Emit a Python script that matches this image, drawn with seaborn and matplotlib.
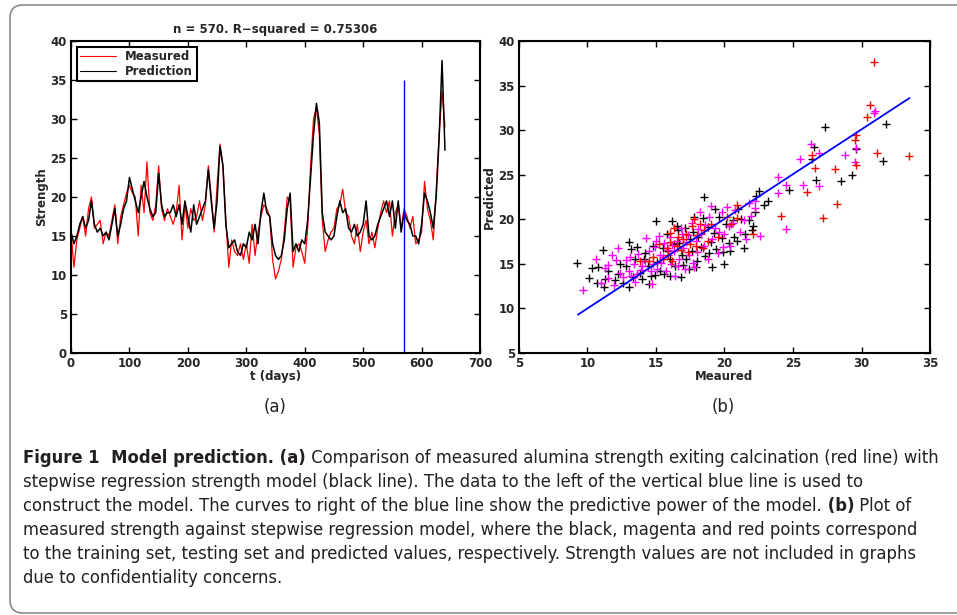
import numpy as np
import pandas as pd
import matplotlib.pyplot as plt
import seaborn as sns
from matplotlib.patches import FancyBboxPatch
from matplotlib import font_manager

# ---- (a) time series, one value every 5 days ----
t_days = np.arange(0, 641, 5)
measured = [
    15.5, 11.0, 14.5, 16.0, 17.5, 15.0, 18.5, 20.0, 16.0, 16.5,
    17.0, 14.0, 15.5, 15.0, 17.0, 19.0, 14.0, 17.5, 19.0, 20.5,
    21.5, 20.5, 20.0, 15.0, 21.5, 18.0, 24.5, 18.0, 17.0, 19.0,
    24.0, 18.5, 17.0, 18.5, 17.5, 16.5, 18.0, 21.5, 14.5, 19.0,
    16.0, 18.5, 17.0, 17.5, 19.5, 17.0, 19.0, 24.0, 20.0, 15.5,
    21.5, 26.8, 24.0, 17.0, 11.0, 14.5, 13.0, 12.5, 14.0, 12.0,
    14.0, 11.5, 16.5, 12.5, 15.5, 17.5, 19.0, 18.5, 17.5, 12.0,
    9.5, 10.5, 12.0, 15.5, 20.0, 19.5, 11.0, 13.5, 14.0, 13.0,
    11.5, 16.0, 24.0, 30.0, 31.5, 28.0, 17.0, 13.0, 14.5, 15.5,
    16.0, 18.5, 19.0, 21.0, 18.0, 17.5, 15.0, 14.0, 16.5, 13.0,
    15.5, 17.0, 14.0, 15.5, 13.5, 16.0, 18.0, 19.5, 18.0, 19.5,
    15.0, 18.0, 19.0, 16.0, 18.5, 17.5, 16.0, 17.5, 14.0, 14.5,
    15.5, 22.0, 18.5, 17.0, 14.5, 21.0, 28.0, 33.5, 29.0,
]
prediction = [
    15.5, 14.0, 15.0, 16.5, 17.5, 16.0, 17.0, 19.5, 16.5, 15.5,
    16.0, 15.0, 15.5, 14.5, 16.5, 18.5, 15.0, 16.5, 18.5, 19.5,
    22.5, 21.0, 19.5, 18.0, 20.0, 22.0, 20.0, 18.5, 17.5, 18.0,
    23.0, 19.0, 17.5, 18.0, 18.0, 19.0, 17.5, 19.0, 16.5, 19.5,
    17.5, 15.5, 19.0, 16.5, 17.5, 18.5, 19.5, 23.5, 19.5, 16.0,
    19.5, 26.5, 24.0, 16.5, 13.5, 14.0, 14.5, 13.0, 12.5, 14.0,
    13.5, 15.5, 14.5, 16.5, 14.0, 18.0, 20.5, 18.0, 17.5, 14.0,
    12.5, 12.0, 12.5, 14.5, 18.5, 20.5, 13.0, 14.0, 13.0, 14.5,
    14.0, 17.0, 22.5, 28.0, 32.0, 29.5, 18.0, 15.5, 15.0, 14.5,
    15.0, 17.5, 19.5, 18.0, 18.5, 16.0, 15.5, 16.5, 15.0, 15.5,
    16.5, 19.5, 15.0, 14.5, 15.0, 16.5, 17.5, 18.5, 19.5, 17.5,
    19.5, 16.0, 19.5, 15.5, 18.0, 17.0, 16.5, 15.0, 15.0, 14.0,
    16.5, 20.5, 19.5, 18.0, 16.0, 20.0, 27.5, 37.5, 26.0,
]
split_day = 570
split_top = 35

# ---- (b) measured vs predicted ----
train_x = [
    27.3, 31.8, 31.6, 29.3, 28.5, 26.7, 26.5, 26.4, 29.6, 24.7,
    23.2, 22.9, 22.5, 22.3, 22.2, 22.1, 21.4, 18.5, 15.0, 11.1,
    9.2, 10.1, 10.3, 10.8, 11.2, 10.7, 13.0, 13.0, 14.5, 16.0,
    16.8, 17.4, 17.9, 19.1, 20.0, 19.9, 20.3, 20.7, 21.0, 19.3,
    16.2, 16.5, 17.7, 11.5, 12.0, 12.4, 12.8, 13.2, 13.5, 13.8,
    14.0, 14.2, 14.4, 14.6, 14.8, 15.1, 15.3, 15.5, 15.6, 15.8,
    16.0, 16.3, 16.4, 16.6, 16.9, 17.1, 17.2, 17.5, 17.6, 17.8,
    18.0, 18.1, 18.3, 18.4, 18.6, 18.8, 19.0, 19.2, 19.4, 19.6,
    19.8, 20.1, 20.4, 20.6, 20.9, 21.2, 21.5, 21.8, 22.0, 14.9,
    15.9, 16.7, 13.6, 12.2, 11.3, 17.0, 18.9, 14.1, 12.6, 13.3,
]
train_y = [
    30.3, 30.7, 26.5, 25.0, 24.3, 24.4, 28.1, 26.8, 27.9, 23.3,
    22.0, 21.6, 23.2, 22.6, 20.8, 19.3, 16.8, 22.5, 19.8, 16.5,
    15.1, 13.4, 14.5, 14.7, 12.4, 12.8, 17.4, 12.4, 12.7, 13.6,
    13.5, 14.4, 14.7, 14.6, 15.0, 16.3, 17.3, 18.0, 21.2, 21.1,
    19.8, 19.3, 18.6, 14.2, 13.2, 15.0, 14.8, 16.7, 15.5, 14.0,
    13.3, 16.2, 14.8, 13.6, 17.0, 15.2, 14.2, 16.8, 13.9, 18.3,
    15.5, 17.2, 14.8, 18.8, 16.0, 19.0, 15.6, 17.8, 16.4, 20.3,
    15.3, 18.0, 16.9, 20.1, 15.9, 19.1, 17.4, 18.5, 16.7, 20.3,
    17.9, 19.5, 16.4, 19.9, 17.6, 20.0, 18.4, 19.9, 18.8, 13.8,
    16.4, 17.3, 16.9, 13.9, 13.3, 14.9, 16.2, 15.6, 12.8, 13.5,
]
test_x = [
    25.5, 26.3, 26.9, 28.8, 29.6, 29.5, 30.9, 31.0, 23.9, 25.7,
    24.5, 23.9, 26.9, 24.5, 22.6, 22.2, 21.8, 9.7, 10.6, 11.5,
    11.8, 12.2, 11.5, 11.0, 12.6, 13.0, 13.5, 11.3, 11.9, 12.4,
    12.8, 13.2, 13.4, 13.7, 13.9, 14.2, 14.3, 14.5, 14.7, 14.8,
    15.0, 15.1, 15.3, 15.4, 15.6, 15.7, 15.9, 16.0, 16.1, 16.3,
    16.4, 16.5, 16.7, 16.8, 17.0, 17.1, 17.3, 17.4, 17.6, 17.7,
    17.9, 18.0, 18.2, 18.3, 18.5, 18.6, 18.8, 18.9, 19.1, 19.3,
    19.5, 19.6, 19.8, 20.0, 20.2, 20.4, 20.6, 20.8, 21.1, 21.4,
    21.6, 21.9, 22.2, 14.0, 13.1, 16.2, 17.2, 18.1, 15.5, 14.6,
    12.1, 19.9, 16.9, 13.6, 15.2, 17.8, 14.9, 16.6, 19.0, 20.3,
]
test_y = [
    26.8, 28.4, 27.4, 27.2, 28.0, 26.4, 31.9, 32.1, 24.7, 23.9,
    23.8, 22.9, 23.7, 18.9, 18.1, 22.0, 21.8, 12.1, 15.5, 14.9,
    16.0, 16.8, 13.4, 12.8, 13.5, 14.2, 13.0, 14.5, 12.6, 14.0,
    15.4, 13.6, 15.0, 16.1, 14.3, 15.3, 17.9, 16.4, 12.7, 15.0,
    17.6, 14.4, 16.0, 15.1, 17.3, 14.2, 16.6, 18.0, 15.0, 16.4,
    13.6, 17.6, 15.6, 19.0, 16.8, 14.4, 18.2, 16.0, 19.6, 15.1,
    17.6, 16.3, 20.8, 18.4, 17.0, 19.4, 15.6, 20.3, 17.8, 19.0,
    16.2, 18.6, 20.8, 18.3, 21.4, 17.0, 19.6, 21.0, 18.6, 19.9,
    17.8, 20.4, 21.3, 14.8, 15.8, 17.1, 17.5, 18.9, 15.8, 14.2,
    15.4, 16.9, 18.3, 13.9, 18.1, 14.6, 16.9, 14.8, 21.5, 19.3,
]
pred_x = [
    30.9, 30.6, 30.4, 29.6, 29.5, 29.6, 31.1, 33.5, 26.4, 26.6,
    28.1, 26.0, 28.2, 27.2, 24.1, 22.1, 20.9, 20.9, 16.3, 17.2,
    17.8, 18.2, 16.0, 16.5, 17.0, 15.8, 17.5, 18.0, 16.8, 15.5,
    14.8, 16.2, 18.5, 17.3, 19.0, 17.9, 16.0, 15.2, 13.8, 18.8,
    19.5, 20.2, 17.6, 16.6, 15.9, 14.5, 20.5, 18.4,
]
pred_y = [
    37.6, 32.8, 31.5, 29.5, 28.9, 26.1, 27.4, 27.1, 27.2, 25.7,
    25.6, 23.1, 21.7, 20.1, 20.4, 18.4, 21.6, 20.1, 19.0, 18.4,
    20.0, 19.5, 17.5, 17.0, 17.8, 16.8, 17.2, 18.2, 16.5, 15.5,
    15.8, 15.3, 18.8, 16.3, 19.5, 17.0, 18.5, 17.2, 15.3, 17.6,
    18.0, 20.3, 19.2, 18.0, 16.0, 15.3, 19.5, 16.8,
]
fit_x = [9.3, 33.5]
fit_y = [9.3, 33.6]

title_a = "n = 570. R\u2212squared = 0.75306"

sns.set_style("ticks")
plt.rcParams["font.family"] = ["DejaVu Sans"]
plt.rcParams["font.weight"] = "bold"
plt.rcParams["axes.labelweight"] = "bold"
plt.rcParams["axes.titleweight"] = "bold"

# pick a narrow face for the caption if one is installed
cap_family, cap_stretch = "Roboto", "normal"
for fam, st in [("Liberation Sans Narrow", "normal"), ("Noto Sans", "condensed"),
                ("Noto Sans", "semi-condensed"), ("DejaVu Sans", "condensed")]:
    try:
        path = font_manager.findfont(font_manager.FontProperties(family=fam, stretch=st),
                                     fallback_to_default=False)
    except Exception:
        continue
    if "Condensed" in path or "Narrow" in path:
        cap_family, cap_stretch = fam, st
        break

fig = plt.figure(figsize=(9.57, 6.15), dpi=100)

# rounded frame around the whole figure
frame = FancyBboxPatch((0.10, 0.02), 9.8, 6.08, boxstyle="round,pad=0,rounding_size=0.13",
                       transform=fig.dpi_scale_trans, facecolor="none",
                       edgecolor="#8a8a8a", linewidth=1.2)
fig.patches.append(frame)

ax1 = fig.add_axes([0.0742, 0.4260, 0.4274, 0.5073])
ax2 = fig.add_axes([0.5423, 0.4260, 0.4295, 0.5073])

ts = pd.DataFrame({"t": t_days, "Measured": measured, "Prediction": prediction})
sns.lineplot(data=ts, x="t", y="Measured", color="red", linewidth=0.9, label="Measured", ax=ax1)
sns.lineplot(data=ts, x="t", y="Prediction", color="black", linewidth=1.1, label="Prediction", ax=ax1)
ax1.vlines(split_day, 0, split_top, color="blue", linewidth=1.0)
ax1.set_xlim(0, 700)
ax1.set_ylim(0, 40)
ax1.set_xticks(range(0, 701, 100))
ax1.set_yticks(range(0, 41, 5))
ax1.set_xlabel("t (days)", fontsize=8.5, labelpad=0)
ax1.set_ylabel("Strength", fontsize=8.5, labelpad=2)
ax1.set_title(title_a, fontsize=8.5, pad=6)
leg = ax1.legend(loc="upper left", fontsize=8.5, frameon=True, fancybox=False,
                 edgecolor="black", framealpha=1, handlelength=3.0,
                 borderpad=0.3, labelspacing=0.1, borderaxespad=0.5)
leg.get_frame().set_linewidth(1.5)
for ln in leg.get_lines():
    ln.set_linewidth(0.8)

sns.scatterplot(x=train_x, y=train_y, color="black", marker="+", s=40, linewidth=1.0, ax=ax2)
sns.scatterplot(x=test_x, y=test_y, color="magenta", marker="+", s=40, linewidth=1.0, ax=ax2)
sns.scatterplot(x=pred_x, y=pred_y, color="red", marker="+", s=40, linewidth=1.0, ax=ax2)
sns.lineplot(x=fit_x, y=fit_y, color="blue", linewidth=1.3, ax=ax2)
ax2.set_xlim(5, 35)
ax2.set_ylim(5, 40)
ax2.set_xticks(range(5, 36, 5))
ax2.set_yticks(range(5, 41, 5))
ax2.set_xlabel("Meaured", fontsize=8.5, labelpad=0)
ax2.set_ylabel("Predicted", fontsize=8.5, labelpad=2)

for ax in (ax1, ax2):
    ax.tick_params(direction="in", top=True, right=True, length=4, width=1,
                   labelsize=8.5, pad=3, color="black")
    for sp in ax.spines.values():
        sp.set_linewidth(1.5)
        sp.set_color("black")
    ax.grid(False)

# caption with mixed bold / regular runs
caption = [
    [("Figure 1  Model prediction. (a)", "bold"),
     (" Comparison of measured alumina strength exiting calcination (red line) with", "normal")],
    [("stepwise regression strength model (black line). The data to the left of the vertical blue line is used to", "normal")],
    [("construct the model. The curves to right of the blue line show the predictive power of the model.", "normal"),
     (" (b)", "bold"), (" Plot of", "normal")],
    [("measured strength against stepwise regression model, where the black, magenta and red points correspond", "normal")],
    [("to the training set, testing set and predicted values, respectively. Strength values are not included in graphs", "normal")],
    [("due to confidentiality concerns.", "normal")],
]
renderer = fig.canvas.get_renderer()


def line_width(parts, size):
    w = 0
    for txt, wt in parts:
        p = fig.text(0, 0, txt, fontsize=size, family=cap_family,
                     fontstretch=cap_stretch, fontweight=wt)
        w += p.get_window_extent(renderer).width
        p.remove()
    return w


# size the caption so the first and fourth lines fit the widths seen in the figure
cap_size = min(10 * 916 / line_width(caption[0], 10),
               10 * 918 / line_width(caption[3], 10), 14.5)

# panel letters
for xc, lab in [(275, "(a)"), (723, "(b)")]:
    fig.text(xc / 957, 1 - 407 / 615, lab, ha="center", va="center", fontsize=cap_size,
             fontweight="normal", family=cap_family, fontstretch=cap_stretch, color="#231f20")

y_px = 458
for line in caption:
    x = 23 / 957
    for txt, wt in line:
        t = fig.text(x, 1 - y_px / 615, txt, ha="left", va="center", fontsize=cap_size,
                     fontweight=wt, family=cap_family, fontstretch=cap_stretch, color="#231f20")
        x += t.get_window_extent(renderer).width / fig.bbox.width
    y_px += 24

fig.savefig("out.png", dpi=100)
